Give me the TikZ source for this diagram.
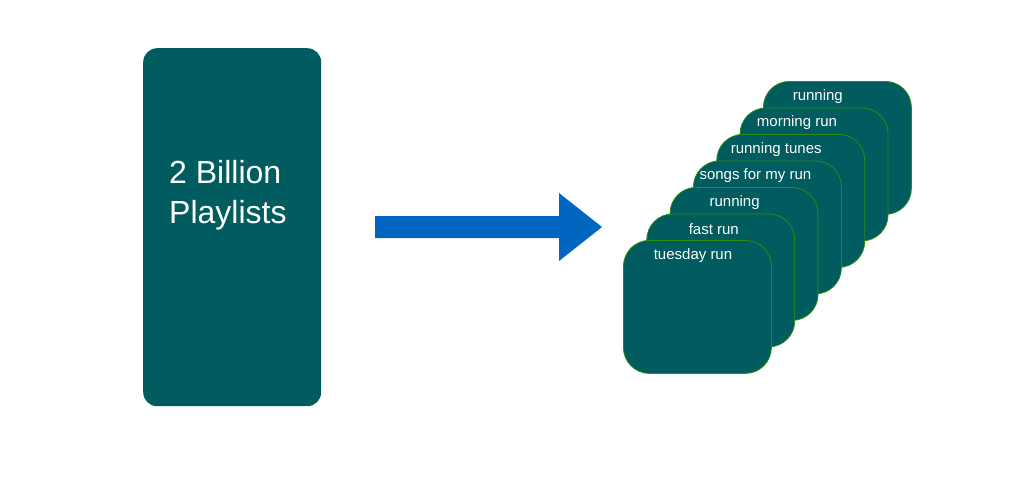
\documentclass[tikz,border=0pt]{standalone}
\usepackage{fontspec}
\setmainfont{Liberation Sans}
\definecolor{teal}{HTML}{005C5E}
\definecolor{edgegreen}{HTML}{2E8B10}
\definecolor{arrowblue}{HTML}{0066C0}
\begin{document}
\begin{tikzpicture}[x=1pt,y=-1pt,
  bigbox/.style={fill=teal, draw=none, rounded corners=14pt, minimum width=178pt, minimum height=358pt, anchor=north west, inner sep=0},
  card/.style={fill=teal, draw=edgegreen, line width=0.8pt, rounded corners=26pt, minimum width=148pt, minimum height=133pt, anchor=north west, inner sep=0},
  cardtext/.style={text=white, font=\fontsize{15}{18}\selectfont, inner sep=0},
  bigtext/.style={text=white, font=\fontsize{32}{38}\selectfont, inner sep=0, anchor=base west}]
\useasboundingbox (0,0) rectangle (1027,496);
\node[bigbox] (big) at (143,48) {};
\node[bigtext] (bl1) at (169,183) {2 Billion};
\node[bigtext] (bl2) at (169,223) {Playlists};
% arrow
\fill[arrowblue] (375,216) -- (559,216) -- (559,193) -- (602,227) -- (559,261) -- (559,238) -- (375,238) -- cycle;
% cards, back to front
\foreach \i/\lab/\nm in {6/running/c6, 5/morning run/c5, 4/running tunes/c4, 3/songs for my run/c3, 2/running/c2, 1/fast run/c1, 0/tuesday run/c0}{
  \node[card] (\nm) at ({623+23.33*\i},{240-26.5*\i}) {};
  \node[cardtext] (\nm t) at ({693+20.8*\i},{255.5-26.5*\i}) {\lab};
}
\end{tikzpicture}
\end{document}
